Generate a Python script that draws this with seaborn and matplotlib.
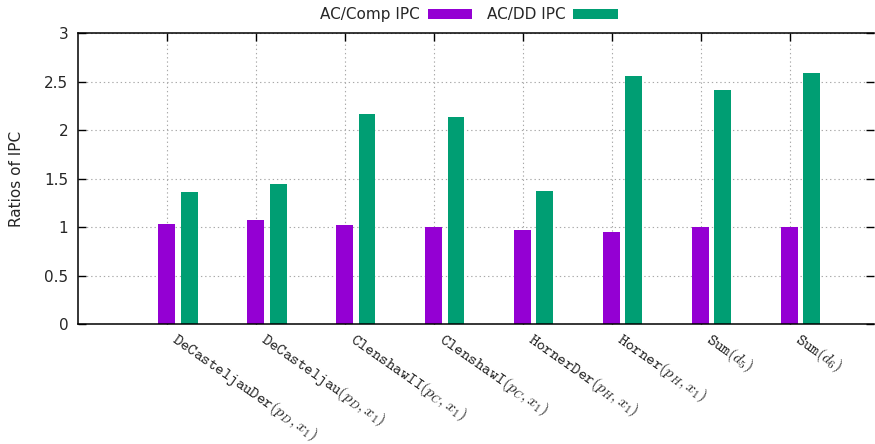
import numpy as np
import pandas as pd
import matplotlib
matplotlib.use("Agg")
import matplotlib.pyplot as plt
import matplotlib.transforms as mtransforms
import seaborn as sns

# ---------------------
# Data
# ---------------------
categories = [
    r"$\mathtt{DeCasteljauDer}(p_D,x_1)$",
    r"$\mathtt{DeCasteljau}(p_D,x_1)$",
    r"$\mathtt{ClenshawII}(p_C,x_1)$",
    r"$\mathtt{ClenshawI}(p_C,x_1)$",
    r"$\mathtt{HornerDer}(p_H,x_1)$",
    r"$\mathtt{Horner}(p_H,x_1)$",
    r"$\mathtt{Sum}(d_5)$",
    r"$\mathtt{Sum}(d_6)$",
]
comp_ipc = [1.03, 1.08, 1.02, 1.00, 0.97, 0.95, 1.00, 1.00]
dd_ipc = [1.36, 1.45, 2.17, 2.14, 1.37, 2.56, 2.42, 2.59]
series_names = ["AC/Comp IPC", "AC/DD IPC"]
colors = ["#9400D3", "#009E73"]

# long form table; second series sits a quarter step to the right
idx = np.arange(len(categories))
df = pd.concat([
    pd.DataFrame({"pos": idx + 0.0, "ratio": comp_ipc, "series": series_names[0]}),
    pd.DataFrame({"pos": idx + 0.25, "ratio": dd_ipc, "series": series_names[1]}),
], ignore_index=True)

sns.set_theme(style="white")
plt.rcParams["font.family"] = ["DejaVu Sans"]
plt.rcParams["mathtext.fontset"] = "cm"

fig = plt.figure(figsize=(8.75, 4.44), dpi=100)
ax = fig.add_axes([78 / 875, 1 - 324.3 / 444, 796 / 875, (324.3 - 33.3) / 444])

sns.barplot(data=df, x="pos", y="ratio", hue="series", palette=colors,
            native_scale=True, dodge=False, width=0.76, linewidth=0,
            saturation=1, ax=ax)

ax.set_xlim(-1, 7.95)
ax.set_ylim(0, 3)

ax.grid(True, color="#a8a8a8", linestyle=(0, (1.2, 2.6)), linewidth=0.8)
ax.set_axisbelow(True)
ax.tick_params(axis="both", direction="in", length=6, width=1, color="black",
               labelsize=11, top=True, right=True, left=True, bottom=True)
ax.tick_params(axis="y", pad=7)
ax.tick_params(axis="x", pad=7)
for side in ["left", "bottom", "top"]:
    ax.spines[side].set_color("black")
    ax.spines[side].set_linewidth(1.1)
ax.spines["right"].set_visible(False)

ax.set_yticks(np.arange(0, 3.01, 0.5))
ax.set_yticklabels(["0", "0.5", "1", "1.5", "2", "2.5", "3"])
ax.set_xticks(idx)
ax.set_xticklabels(categories, rotation=-35, ha="left", va="top",
                   rotation_mode="anchor", fontsize=11.6)
offset = mtransforms.ScaledTranslation(9 / 72, 3.5 / 72, fig.dpi_scale_trans)
for lab in ax.get_xticklabels():
    lab.set_transform(lab.get_transform() + offset)

ax.set_xlabel("")
ax.set_ylabel("Ratios of IPC", fontsize=11)
ax.yaxis.set_label_coords(-0.068, 0.5)

handles, labels = ax.get_legend_handles_labels()
ax.legend(handles, labels, loc="center", bbox_to_anchor=(469 / 875, 1 - 15 / 444),
          bbox_transform=fig.transFigure, ncol=2, frameon=False,
          markerfirst=False, handlelength=2.9, handleheight=0.55,
          handletextpad=0.5, columnspacing=1.0, fontsize=11)

fig.savefig("out.png", dpi=100)
